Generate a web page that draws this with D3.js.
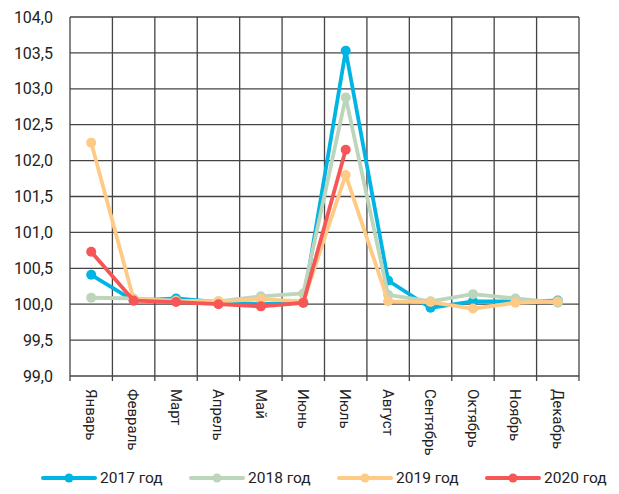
<!DOCTYPE html>
<html>
<head>
<meta charset="utf-8">
<script src="https://cdn.jsdelivr.net/npm/d3@7"></script>
<style>
  body { margin: 0; background: #fff; }
  svg text { font-family: "Roboto", "Noto Sans", sans-serif; fill: #222; }
</style>
</head>
<body>
<svg id="chart" width="619" height="494"></svg>
<script>
// Data
const months = ["Январь", "Февраль", "Март", "Апрель", "Май", "Июнь",
                "Июль", "Август", "Сентябрь", "Октябрь", "Ноябрь", "Декабрь"];
const yTicks = [99.0, 99.5, 100.0, 100.5, 101.0, 101.5, 102.0, 102.5, 103.0, 103.5, 104.0];

const v2017 = [100.41, 100.05, 100.08, 100.03, 100.00, 100.02, 103.53, 100.33, 99.95, 100.04, 100.04, 100.05];
const v2018 = [100.09, 100.08, 100.05, 100.04, 100.11, 100.15, 102.88, 100.13, 100.04, 100.14, 100.08, 100.02];
const v2019 = [102.25, 100.07, 100.04, 100.04, 100.07, 100.04, 101.80, 100.04, 100.03, 99.94, 100.02, 100.04];
const v2020 = [100.73, 100.05, 100.03, 100.00, 99.97, 100.02, 102.15];

const seriesNames = ["2017 год", "2018 год", "2019 год", "2020 год"];
const seriesColors = ["#00b4e4", "#bcd5bb", "#ffca86", "#f75656"];

const series = [v2017, v2018, v2019, v2020].map((vals, i) => ({
    name: seriesNames[i],
    color: seriesColors[i],
    values: vals.map((v, j) => ({ month: months[j], value: v }))
}));

const margin = { top: 17, left: 70, right: 40, bottom: 118 };
const width = 619, height = 494;

const svg = d3.select("#chart");

const x = d3.scaleBand()
    .domain(months)
    .range([margin.left, width - margin.right])
    .padding(0);

const y = d3.scaleLinear()
    .domain([99, 104])
    .range([height - margin.bottom, margin.top]);

const ru = d3.formatLocale({ decimal: ",", thousands: " ", grouping: [3], currency: ["", ""] });
const fmt = ru.format(".1f");

// horizontal grid lines
svg.append("g")
    .selectAll("line")
    .data(yTicks)
    .enter()
    .append("line")
    .attr("x1", margin.left)
    .attr("x2", width - margin.right)
    .attr("y1", d => y(d))
    .attr("y2", d => y(d))
    .attr("stroke", "#444")
    .attr("stroke-width", 1.3);

// vertical grid lines at band edges (plus ticks below the axis)
const edges = months.map(m => x(m)).concat([x.range()[1]]);
svg.append("g")
    .selectAll("line")
    .data(edges)
    .enter()
    .append("line")
    .attr("x1", d => d)
    .attr("x2", d => d)
    .attr("y1", margin.top)
    .attr("y2", height - margin.bottom + 5)
    .attr("stroke", "#444")
    .attr("stroke-width", 1.3);

// y axis labels
svg.append("g")
    .selectAll("text")
    .data(yTicks)
    .enter()
    .append("text")
    .attr("x", margin.left - 17)
    .attr("y", d => y(d))
    .attr("dy", "0.35em")
    .attr("text-anchor", "end")
    .style("font-size", "16px")
    .text(d => fmt(d));

// x axis labels, rotated
svg.append("g")
    .selectAll("text")
    .data(months)
    .enter()
    .append("text")
    .attr("transform", d => `translate(${x(d) + x.bandwidth() / 2}, ${height - margin.bottom + 13}) rotate(90)`)
    .attr("dy", "0.35em")
    .attr("text-anchor", "start")
    .style("font-size", "15px")
    .text(d => d);

// lines
const line = d3.line()
    .x(d => x(d.month) + x.bandwidth() / 2)
    .y(d => y(d.value));

const sg = svg.append("g")
    .selectAll("g")
    .data(series)
    .enter()
    .append("g");

sg.append("path")
    .attr("fill", "none")
    .attr("stroke", d => d.color)
    .attr("stroke-width", 3.8)
    .attr("stroke-linejoin", "round")
    .attr("d", d => line(d.values));

sg.selectAll("circle")
    .data(d => d.values.map(v => ({ ...v, color: d.color })))
    .enter()
    .append("circle")
    .attr("cx", d => x(d.month) + x.bandwidth() / 2)
    .attr("cy", d => y(d.value))
    .attr("r", 5)
    .attr("fill", d => d.color);

// legend
const legendX = d3.scalePoint()
    .domain(seriesNames)
    .range([42, 486]);
const legendY = 478;

const lg = svg.append("g")
    .selectAll("g")
    .data(series)
    .enter()
    .append("g")
    .attr("transform", d => `translate(${legendX(d.name)}, ${legendY})`);

lg.append("line")
    .attr("x1", 1)
    .attr("x2", 53)
    .attr("stroke", d => d.color)
    .attr("stroke-width", 4)
    .attr("stroke-linecap", "round");

lg.append("circle")
    .attr("cx", 27)
    .attr("r", 4.5)
    .attr("fill", d => d.color);

lg.append("text")
    .attr("x", 58)
    .attr("dy", "0.35em")
    .style("font-size", "15.5px")
    .text(d => d.name);
</script>
</body>
</html>
